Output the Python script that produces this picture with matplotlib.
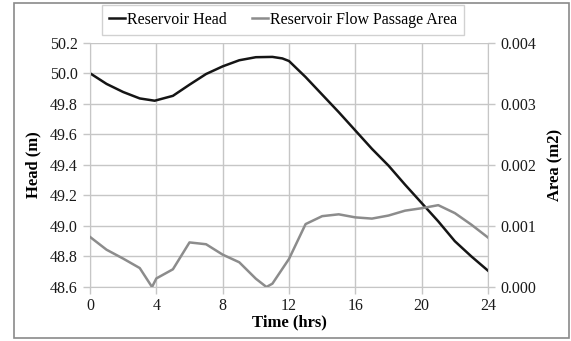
import numpy as np
import matplotlib.pyplot as plt
from matplotlib.patches import Rectangle
from matplotlib.ticker import FormatStrFormatter

# reservoir head (m), read at hourly marks plus the turning points
head_t = [0, 1, 2, 3, 3.9, 5, 6, 7, 8, 9, 10, 11, 11.6, 12, 13, 14, 15,
          16, 17, 18, 19, 20, 21, 22, 23, 24]
head_m = [50.00, 49.93, 49.877, 49.835, 49.82, 49.852, 49.925, 49.995, 50.045,
          50.085, 50.105, 50.107, 50.097, 50.08, 49.975, 49.86, 49.745,
          49.625, 49.505, 49.395, 49.27, 49.15, 49.03, 48.90, 48.80, 48.707]

# flow passage area (m2)
area_t = [0, 1, 2, 3, 3.74, 4, 5, 6, 7, 8, 9, 10, 10.64, 11, 12, 13, 14, 15,
          16, 17, 18, 19, 20, 21, 22, 23, 24]
area_m2 = [0.00082, 0.00061, 0.000465, 0.00031, 0.0, 0.00014, 0.00029, 0.00073,
           0.0007, 0.00053, 0.000405, 0.000136, 0.0, 0.000055, 0.00046, 0.00103,
           0.00116, 0.00119, 0.00114, 0.00112, 0.00117, 0.00125, 0.00129,
           0.00134, 0.00121, 0.00102, 0.00081]

x_ticks = [0, 4, 8, 12, 16, 20, 24]
head_ticks = [48.6, 48.8, 49.0, 49.2, 49.4, 49.6, 49.8, 50.0, 50.2]
area_ticks = [0.0, 0.001, 0.002, 0.003, 0.004]

plt.rcParams['font.family'] = ['Liberation Serif', 'DejaVu Serif']
grid_col = '#c6c6c6'

fig = plt.figure(figsize=(5.71, 3.41), dpi=100)
fig.patches.append(Rectangle((14 / 571, 3 / 341), 555 / 571, 335 / 341,
                             transform=fig.transFigure, fill=False,
                             edgecolor='#8a8a8a', linewidth=1.2))

ax = fig.add_axes([90 / 571, 54 / 341, 398 / 571, 244.3 / 341])
ax2 = ax.twinx()

h1, = ax.plot(head_t, head_m, color='#151515', lw=1.8, label='Reservoir Head')
h2, = ax2.plot(area_t, area_m2, color='#8c8c8c', lw=1.8,
               label='Reservoir Flow Passage Area')

ax.set_xlim(0, 24)
ax.set_ylim(48.6, 50.2)
ax2.set_ylim(0, 0.004)
ax.set_xticks(x_ticks)
ax.set_yticks(head_ticks)
ax2.set_yticks(area_ticks)
ax.yaxis.set_major_formatter(FormatStrFormatter('%.1f'))
ax2.yaxis.set_major_formatter(FormatStrFormatter('%.3f'))

ax.grid(True, color=grid_col, lw=1.0)
ax.set_axisbelow(True)
for a in (ax, ax2):
    for s in a.spines.values():
        s.set_visible(False)
    a.tick_params(colors=grid_col, labelcolor='#1a1a1a', labelsize=11.5,
                  length=5, width=1.0, pad=4)
ax.tick_params(axis='x', pad=3)
ax.spines['left'].set_visible(True)
ax.spines['left'].set_color(grid_col)
ax.spines['bottom'].set_visible(True)
ax.spines['bottom'].set_color(grid_col)
ax2.spines['right'].set_visible(True)
ax2.spines['right'].set_color(grid_col)

ax.set_xlabel('Time (hrs)', fontsize=12, fontweight='bold', labelpad=0)
ax.set_ylabel('Head (m)', fontsize=12, fontweight='bold', labelpad=6)
ax2.set_ylabel('Area (m2)', fontsize=12, fontweight='bold', labelpad=8)

leg = fig.legend(handles=[h1, h2], loc='center', ncol=2,
                 bbox_to_anchor=(283 / 571, 1 - 20 / 341), fontsize=11.5,
                 frameon=True, fancybox=False, handlelength=1.0,
                 handletextpad=0.1, columnspacing=1.6, borderpad=0.45,
                 borderaxespad=0)
leg.get_frame().set_edgecolor(grid_col)
leg.get_frame().set_linewidth(1.0)

fig.savefig('out.png', dpi=100)
